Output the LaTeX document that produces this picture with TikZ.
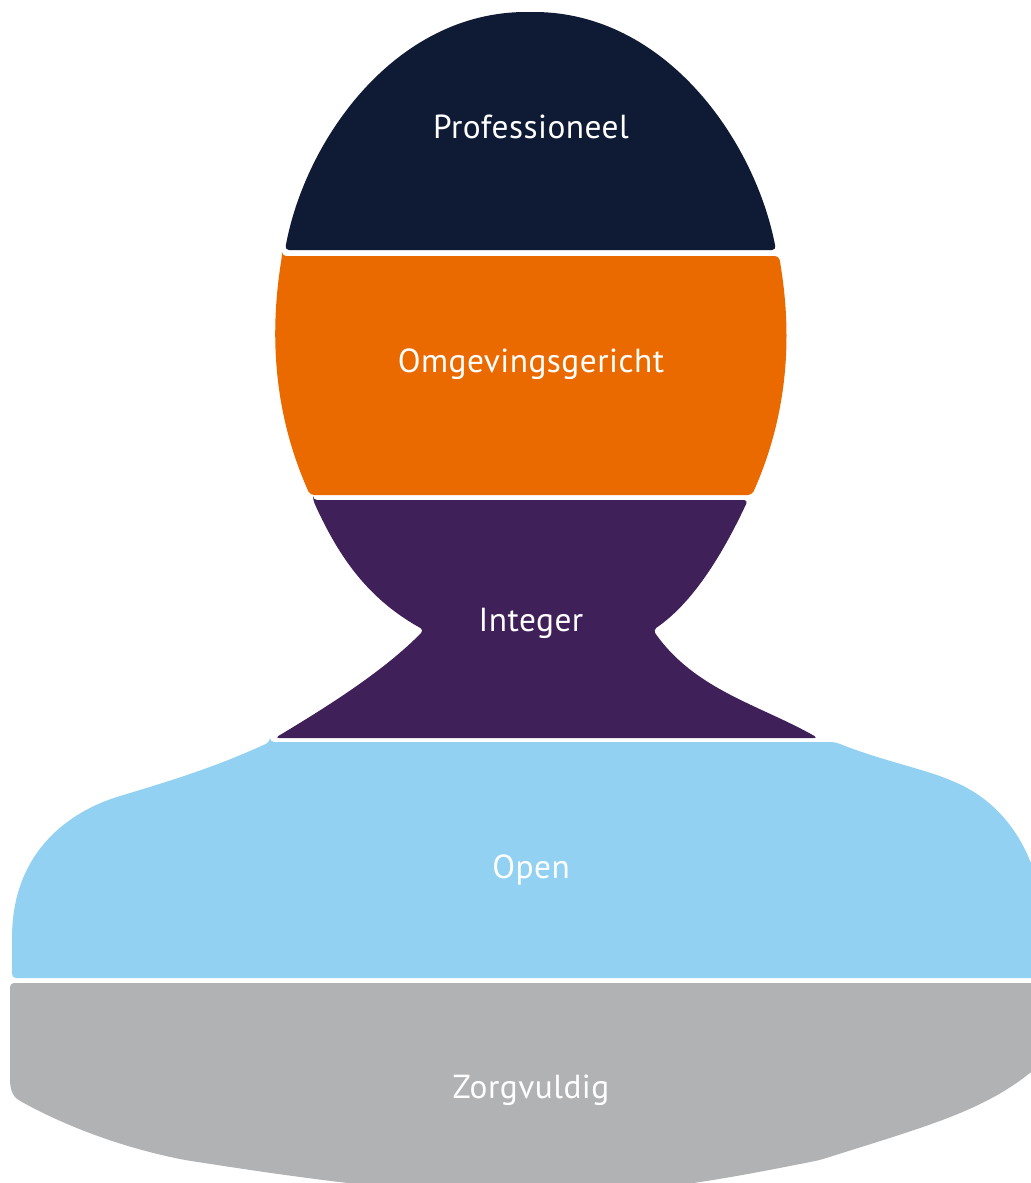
\documentclass[tikz,border=0pt]{standalone}
\usepackage{fontspec}
\setmainfont{PT Sans}
\usepackage{xcolor}
\definecolor{headnavy}{HTML}{0F1B34}
\definecolor{headorange}{HTML}{EB6A00}
\definecolor{neckpurple}{HTML}{3F2059}
\definecolor{chestblue}{HTML}{92D1F1}
\definecolor{basegray}{HTML}{B1B2B4}

\begin{document}
\begin{tikzpicture}[
    x=0.75pt, y=-0.75pt,
    band/.style={draw=none, rounded corners=3pt},
    tag/.style={text=white, font=\fontsize{25}{30}\selectfont\addfontfeatures{LetterSpace=1.5}}
  ]
    \useasboundingbox (0,0) rectangle (1031,1183);
    \clip (0,0) rectangle (1031,1183);

    % crown of the head
    \fill[band, headnavy]
      (285,250) .. controls (305,140) and (395,12) .. (530,12)
      .. controls (665,12) and (755,140) .. (776,250) -- cycle;

    % face
    \fill[band, headorange]
      (282,256) -- (779,256)
      .. controls (792,330) and (790,410) .. (752,495)
      -- (310,495)
      .. controls (272,410) and (270,330) .. cycle;

    % neck
    \fill[band, neckpurple]
      (313,500) -- (748,500)
      .. controls (720,560) and (690,605) .. (653,630)
      .. controls (695,690) and (760,705) .. (818,738)
      -- (275,738)
      .. controls (330,705) and (385,670) .. (424,630)
      .. controls (370,600) and (340,560) .. cycle;

    % shoulders
    \fill[band, chestblue]
      (270,742) -- (835,742)
      .. controls (880,760) and (920,768) .. (950,780)
      .. controls (1010,805) and (1040,860) .. (1045,930)
      -- (1045,978) -- (12,978)
      -- (12,935)
      .. controls (15,850) and (70,812) .. (120,796)
      .. controls (180,778) and (220,765) .. cycle;

    % lower body
    \fill[band, basegray]
      (10,983) -- (1045,983) -- (1045,1060)
      .. controls (990,1110) and (930,1125) .. (820,1160)
      .. controls (720,1180) and (640,1195) .. (530,1195)
      .. controls (420,1195) and (300,1178) .. (185,1160)
      .. controls (110,1145) and (55,1120) .. (22,1102)
      .. controls (12,1096) and (10,1088) .. (10,1075) -- cycle;

    \node[tag] (professioneel) at (531,127) {Professioneel};
    \node[tag] (omgevingsgericht) at (531,364) {Omgevingsgericht};
    \node[tag] (integer) at (531,623) {Integer};
    \node[tag] (open) at (531,870) {Open};
    \node[tag] (zorgvuldig) at (531,1090) {Zorgvuldig};
  \end{tikzpicture}
\end{document}
